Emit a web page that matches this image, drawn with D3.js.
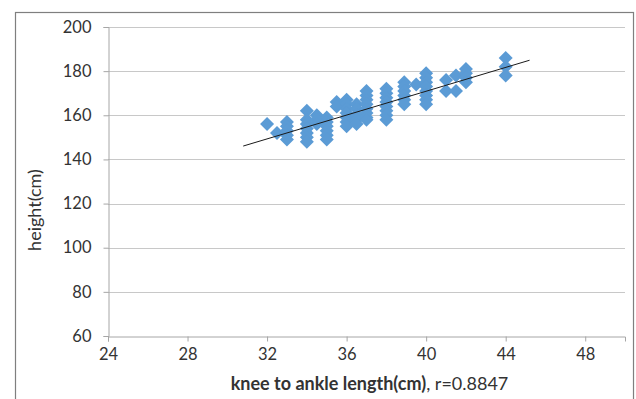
<!DOCTYPE html>
<html>
<head>
<meta charset="utf-8">
<script src="https://cdn.jsdelivr.net/npm/d3@7"></script>
<style>
  html, body { margin: 0; padding: 0; background: #fff; }
  svg { display: block; }
  text { font-family: Lato, "Open Sans", sans-serif; fill: #333; }
</style>
</head>
<body>
<svg id="chart" width="636" height="399"></svg>
<script>
// ---- data ----
const kneeLength = [
  32, 32.5,
  33, 33, 33, 33, 33,
  34, 34, 34, 34, 34, 34, 34,
  34.5, 34.5, 34.5,
  35, 35, 35, 35, 35, 35,
  35.5, 35.5,
  36, 36, 36, 36, 36, 36, 36,
  36.5, 36.5, 36.5, 36.5, 36.5,
  37, 37, 37, 37, 37, 37, 37, 37,
  38, 38, 38, 38, 38, 38, 38, 38,
  38.9, 38.9, 38.9, 38.9, 38.9, 38.9,
  39.5,
  40, 40, 40, 40, 40, 40, 40, 40,
  41, 41,
  41.5, 41.5,
  42, 42, 42, 42,
  44, 44, 44
];
const height = [
  156, 152,
  157, 155, 153, 151, 149,
  162, 158, 156, 154, 152, 150, 148,
  160, 158, 156,
  159, 157, 155, 153, 151, 149,
  166, 164,
  167, 165, 163, 161, 159, 157, 155,
  165, 163, 160, 158, 156,
  171, 169, 167, 165, 163, 161, 159, 158,
  172, 170, 168, 166, 164, 162, 160, 158,
  175, 173, 171, 169, 167, 165,
  174,
  179, 177, 175, 173, 171, 169, 167, 165,
  176, 171,
  178, 171,
  181, 179, 177, 175,
  186, 182, 178
];
const trendX = [30.8, 45.2];           // trendline extent
const trendSlope = 2.70, trendIntercept = 62.9;
const xTicks = [24, 28, 32, 36, 40, 44, 48];
const yTicks = [60, 80, 100, 120, 140, 160, 180, 200];
const xDomain = [24, 50];
const yDomain = [60, 200];
const xTitleBold = "knee to ankle length(cm)";
const xTitleRest = ", r=0.8847";
const yTitle = "height(cm)";

// ---- layout ----
const svg = d3.select("#chart");
const pLeft = 108, pRight = 625, pTop = 27, pBottom = 336;

const x = d3.scaleLinear().domain(xDomain).range([pLeft, pRight]);
const y = d3.scaleLinear().domain(yDomain).range([pBottom, pTop]);

// outer frame
svg.append("rect")
  .attr("x", 15.5).attr("y", 12.5)
  .attr("width", 618).attr("height", 400)
  .attr("fill", "none").attr("stroke", "#7f7f7f").attr("stroke-width", 1.2);

// horizontal gridlines
svg.append("g").selectAll("line")
  .data(yTicks.filter(d => d !== yDomain[0]))
  .join("line")
  .attr("x1", pLeft).attr("x2", pRight)
  .attr("y1", d => Math.round(y(d)) + 0.5).attr("y2", d => Math.round(y(d)) + 0.5)
  .attr("stroke", "#c8c8c8").attr("stroke-width", 1);

// y axis
const yAxis = svg.append("g")
  .attr("transform", `translate(${pLeft + 0.5},0)`)
  .call(d3.axisLeft(y).tickValues(yTicks).tickSize(5).tickPadding(12).tickFormat(d3.format("d")));
yAxis.select(".domain").attr("stroke", "#a6a6a6");
yAxis.selectAll(".tick line").attr("stroke", "#a6a6a6");
yAxis.selectAll(".tick text").attr("font-size", 16.5).attr("fill", "#333");

// x axis
const xAxis = svg.append("g")
  .attr("transform", `translate(0,${pBottom + 0.5})`)
  .call(d3.axisBottom(x).tickValues(xTicks).tickSize(5).tickPadding(7).tickFormat(d3.format("d")));
xAxis.select(".domain").attr("stroke", "#a6a6a6");
xAxis.selectAll(".tick line").attr("stroke", "#a6a6a6");
xAxis.selectAll(".tick text").attr("font-size", 16.5).attr("fill", "#333");

// points
const pts = kneeLength.map((k, i) => ({ k, h: height[i] }));
const diamond = "M0,-7L7,0L0,7L-7,0Z";
svg.append("g").selectAll("path")
  .data(pts)
  .join("path")
  .attr("d", diamond)
  .attr("transform", d => `translate(${x(d.k)},${y(d.h)})`)
  .attr("fill", "#5b9bd5");

// trendline
const line = d3.line().x(d => x(d)).y(d => y(trendSlope * d + trendIntercept));
svg.append("path")
  .datum(trendX)
  .attr("d", line)
  .attr("fill", "none").attr("stroke", "#1a1a1a").attr("stroke-width", 1);

// axis titles
const xt = svg.append("text")
  .attr("x", (pLeft + pRight) / 2 + 3).attr("y", 390)
  .attr("text-anchor", "middle").attr("font-size", 18);
xt.append("tspan").attr("font-weight", "bold").text(xTitleBold);
xt.append("tspan").text(xTitleRest);

svg.append("text")
  .attr("transform", `translate(34,210) rotate(-90)`)
  .attr("text-anchor", "middle").attr("dominant-baseline", "central")
  .attr("font-size", 18)
  .text(yTitle);
</script>
</body>
</html>
